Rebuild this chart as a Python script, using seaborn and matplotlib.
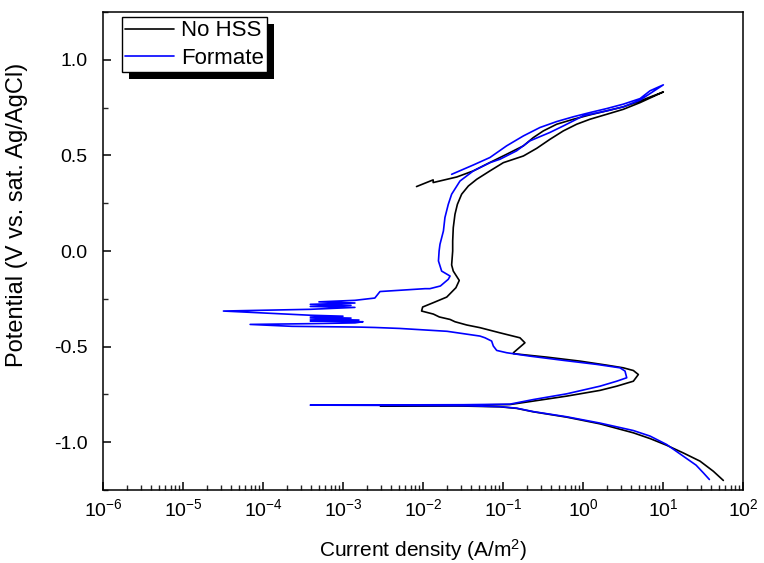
import numpy as np
import pandas as pd
import matplotlib
matplotlib.use("Agg")
import matplotlib.pyplot as plt
from matplotlib.patches import Rectangle
from matplotlib.lines import Line2D
from matplotlib.ticker import (LogLocator, MultipleLocator, FixedLocator,
                               NullFormatter, FormatStrFormatter)
import seaborn as sns

# Cyclic polarization scans: current density (A/m^2) and potential (V vs. sat. Ag/AgCl),
# listed in scan order (forward from the cathodic end, then the reverse sweep).
no_hss_current = [
    # cathodic branch
    5.68e1, 4.26e1, 2.90e1, 1.79e1, 1.11e1, 6.89e0, 4.26e0, 1.63e0, 6.25e-1,
    2.39e-1, 1.48e-1, 9.16e-2, 3.2e-2, 2.9e-3,
    # anodic branch and active nose
    3.2e-2, 1.22e-1, 2.39e-1, 6.25e-1, 1.63e0, 2.64e0, 4.26e0, 4.92e0, 4.26e0,
    3.19e0, 1.98e0, 9.18e-1, 3.52e-1, 1.35e-1, 1.35e-1, 1.88e-1, 1.63e-1,
    9.17e-2, 5.16e-2, 3.52e-2, 2.51e-2, 2.18e-2, 1.60e-2, 1.35e-2, 9.6e-3,
    9.9e-3, 1.35e-2, 1.98e-2, 2.58e-2, 2.84e-2, 2.39e-2, 2.28e-2,
    # passive film
    2.35e-2, 2.35e-2, 2.39e-2, 2.51e-2, 2.69e-2, 3.04e-2, 3.69e-2, 4.69e-2,
    6.87e-2, 1.01e-1, 1.80e-1, 2.64e-1, 3.86e-1, 5.67e-1, 8.33e-1, 1.22e0,
    1.98e0, 3.19e0, 5.16e0, 1.01e1,
    # reverse sweep
    5.16e0, 3.19e0, 1.98e0, 1.22e0, 7.57e-1, 4.69e-1, 3.19e-1, 2.39e-1,
    1.80e-1, 1.11e-1, 6.87e-2, 4.26e-2, 2.64e-2, 1.34e-2, 1.34e-2, 8.3e-3,
]
no_hss_potential = [
    -1.200, -1.152, -1.099, -1.056, -1.016, -0.981, -0.951, -0.904, -0.869,
    -0.841, -0.823, -0.815, -0.811, -0.809,
    -0.806, -0.803, -0.785, -0.759, -0.729, -0.707, -0.681, -0.646, -0.625,
    -0.611, -0.597, -0.576, -0.555, -0.537, -0.532, -0.480, -0.454,
    -0.428, -0.401, -0.387, -0.370, -0.358, -0.345, -0.330, -0.314,
    -0.293, -0.270, -0.241, -0.192, -0.154, -0.105, -0.073,
    0.0, 0.052, 0.122, 0.192, 0.244, 0.297, 0.340, 0.375,
    0.419, 0.462, 0.497, 0.537, 0.584, 0.628, 0.663, 0.689,
    0.715, 0.741, 0.776, 0.832,
    0.785, 0.754, 0.733, 0.712, 0.689, 0.663, 0.628, 0.593,
    0.550, 0.506, 0.463, 0.419, 0.387, 0.358, 0.372, 0.337,
]

formate_current = [
    # cathodic branch
    3.80e1, 3.19e1, 2.59e1, 1.79e1, 1.11e1, 6.89e0, 4.26e0, 1.63e0, 6.25e-1,
    2.39e-1, 1.48e-1, 9.16e-2, 3.2e-2, 3.9e-4,
    # anodic branch and active nose
    3.2e-2, 1.22e-1, 2.39e-1, 6.25e-1, 1.63e0, 2.64e0, 3.52e0, 3.35e0, 2.90e0,
    1.48e0, 5.68e-1, 2.18e-1, 1.11e-1, 8.34e-2, 7.57e-2, 7.21e-2, 5.96e-2,
    5.16e-2, 2.0e-2, 5.1e-3, 2.5e-3, 1.6e-3,
    # noisy region near -0.3 V
    2.3e-4, 6.9e-5, 3.9e-4, 1.41e-3, 1.78e-3, 3.9e-4, 1.58e-3, 3.9e-4,
    1.26e-3, 3.9e-4, 1.0e-3, 3.9e-4, 3.2e-5, 3.9e-4, 1.41e-3, 3.9e-4,
    1.26e-3, 3.9e-4, 1.41e-3, 5.0e-4, 1.41e-3, 2.5e-3, 2.9e-3, 1.06e-2,
    1.22e-2,
    # passive film
    1.65e-2, 2.07e-2, 2.18e-2, 1.71e-2, 1.56e-2, 1.59e-2, 1.63e-2, 1.80e-2,
    1.88e-2, 2.07e-2, 2.28e-2, 2.90e-2, 4.26e-2, 6.87e-2, 9.17e-2, 1.48e-1,
    2.17e-1, 3.86e-1, 5.67e-1, 1.01e0, 1.98e0, 3.19e0, 5.16e0, 1.01e1,
    # reverse sweep
    6.89e0, 5.16e0, 3.19e0, 1.98e0, 1.22e0, 7.57e-1, 4.69e-1, 2.90e-1,
    1.80e-1, 1.11e-1, 6.87e-2, 4.26e-2, 2.28e-2,
]
formate_potential = [
    -1.195, -1.160, -1.120, -1.073, -1.012, -0.968, -0.939, -0.900, -0.867,
    -0.840, -0.822, -0.814, -0.809, -0.806,
    -0.804, -0.801, -0.777, -0.747, -0.707, -0.681, -0.663, -0.628, -0.611,
    -0.593, -0.572, -0.550, -0.532, -0.520, -0.497, -0.471, -0.454,
    -0.445, -0.420, -0.405, -0.400, -0.398,
    -0.394, -0.384, -0.380, -0.376, -0.370, -0.366, -0.361, -0.356,
    -0.351, -0.346, -0.341, -0.336, -0.314, -0.305, -0.295, -0.290,
    -0.284, -0.279, -0.272, -0.266, -0.258, -0.246, -0.212, -0.197,
    -0.197,
    -0.183, -0.148, -0.131, -0.105, -0.052, 0.0, 0.035, 0.105,
    0.175, 0.244, 0.297, 0.366, 0.419, 0.462, 0.480, 0.524,
    0.576, 0.620, 0.654, 0.707, 0.733, 0.754, 0.789, 0.869,
    0.838, 0.797, 0.768, 0.745, 0.724, 0.702, 0.677, 0.646,
    0.602, 0.550, 0.489, 0.450, 0.401,
]

series_names = ["No HSS", "Formate"]
series_colors = ["black", "blue"]

frames = []
for name, cur, pot in [
    ("No HSS", no_hss_current, no_hss_potential),
    ("Formate", formate_current, formate_potential),
]:
    frames.append(pd.DataFrame({"current": cur, "potential": pot, "series": name}))
df = pd.concat(frames, ignore_index=True)

sns.set_theme(style="ticks")
plt.rcParams["font.family"] = ["Liberation Sans", "DejaVu Sans"]
plt.rcParams["mathtext.fontset"] = "custom"
plt.rcParams["mathtext.rm"] = "Liberation Sans"
plt.rcParams["mathtext.it"] = "Liberation Sans"
plt.rcParams["mathtext.default"] = "regular"
plt.rcParams["text.color"] = "black"
plt.rcParams["axes.labelcolor"] = "black"

fig = plt.figure(figsize=(7.64, 5.63), dpi=100)
ax = fig.add_axes([103 / 764, 1 - 490 / 563, 640 / 764, 478 / 563])

sns.lineplot(data=df, x="current", y="potential", hue="series",
             hue_order=series_names, palette=dict(zip(series_names, series_colors)),
             sort=False, estimator=None, units="series", linewidth=1.2, ax=ax,
             legend=False)

ax.set_xscale("log")
ax.set_xlim(1e-6, 1e2)
ax.set_ylim(-1.25, 1.25)

decades = [10.0 ** k for k in range(-6, 3)]
ax.xaxis.set_major_locator(FixedLocator(decades))
ax.set_xticks(decades)
ax.set_xticklabels([f"$10^{{{k}}}$" for k in range(-6, 3)])
ax.xaxis.set_minor_locator(LogLocator(base=10, subs=np.arange(2, 10), numticks=20))
ax.xaxis.set_minor_formatter(NullFormatter())
ax.yaxis.set_major_locator(MultipleLocator(0.5))
ax.yaxis.set_minor_locator(MultipleLocator(0.25))
ax.yaxis.set_major_formatter(FormatStrFormatter("%.1f"))

for side in ["left", "right", "top", "bottom"]:
    ax.spines[side].set_visible(True)
    ax.spines[side].set_linewidth(1.1)
    ax.spines[side].set_color("black")

ax.tick_params(which="major", direction="in", length=6, width=1.1, labelsize=14,
               colors="black", top=False, right=False)
ax.tick_params(axis="x", which="major", pad=6)
ax.tick_params(axis="y", which="major", pad=11)
ax.tick_params(which="minor", direction="in", length=3.5, width=1.0,
               top=False, right=False)
ax.grid(False)

ax.set_xlabel("Current density (A/m$^2$)", fontsize=15, labelpad=12)
ax.set_ylabel("Potential (V vs. sat. Ag/AgCl)", fontsize=17)
ax.yaxis.set_label_coords(-0.117, 0.575)

handles = [Line2D([], [], color=c, lw=1.2) for c in series_colors]
leg = ax.legend(handles, series_names, loc="upper left",
                bbox_to_anchor=(19 / 640, 1 - 5 / 478), borderaxespad=0,
                fontsize=16, frameon=True, fancybox=False, framealpha=1,
                edgecolor="black", borderpad=0.15, handlelength=2.2,
                handletextpad=0.3, labelspacing=0.3)
leg.get_frame().set_linewidth(1.0)
leg.set_zorder(6)

# solid drop shadow behind the legend box
fig.canvas.draw()
bb = leg.get_window_extent().transformed(ax.transAxes.inverted())
dx = 7 / 640
dy = 7 / 478
ax.add_patch(Rectangle((bb.x0 + dx, bb.y0 - dy), bb.width, bb.height,
                       transform=ax.transAxes, facecolor="black", edgecolor="none",
                       zorder=5.5, clip_on=False))

fig.savefig("out.png", dpi=100)
